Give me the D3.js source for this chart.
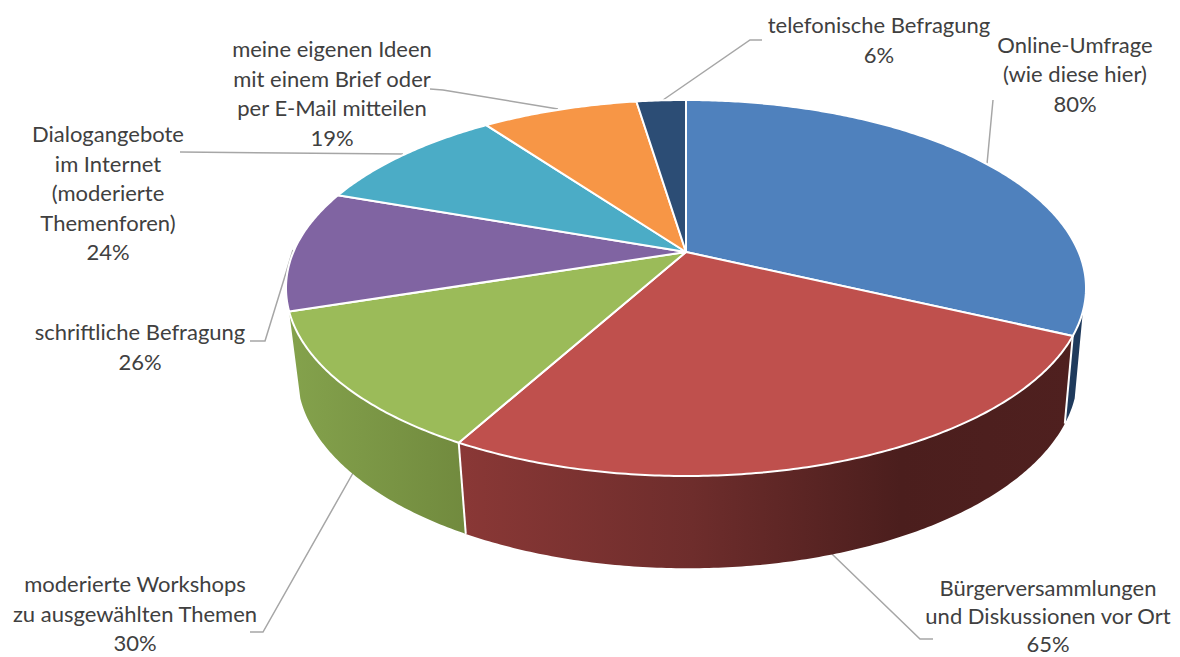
<!DOCTYPE html>
<html lang="de">
<head>
<meta charset="utf-8">
<title>Beteiligungsformen</title>
<script src="https://cdn.jsdelivr.net/npm/d3@7/dist/d3.min.js"></script>
<style>
  html, body { margin: 0; padding: 0; background: #fff; overflow: hidden; }
  svg { display: block; }
  text { font-family: Lato, "Open Sans", sans-serif; fill: #404040; }
</style>
</head>
<body>
<svg id="chart" width="1180" height="657"></svg>
<script>
// Survey answers, clockwise from twelve o'clock
const categories = [
  "Online-Umfrage",
  "Bürgerversammlungen",
  "moderierte Workshops",
  "schriftliche Befragung",
  "Dialogangebote",
  "meine eigenen Ideen",
  "telefonische Befragung"
];
const values = [80, 65, 30, 26, 24, 19, 6];
const labelLines = [
  ["Online-Umfrage", "(wie diese hier)"],
  ["Bürgerversammlungen", "und Diskussionen vor Ort"],
  ["moderierte Workshops", "zu ausgewählten Themen"],
  ["schriftliche Befragung"],
  ["Dialogangebote", "im Internet", "(moderierte", "Themenforen)"],
  ["meine eigenen Ideen", "mit einem Brief oder", "per E-Mail mitteilen"],
  ["telefonische Befragung"]
];

// Appearance
const topColors = ["#4f81bd", "#bf504d", "#9bbb59", "#8064a2", "#4bacc6", "#f79646", "#2c4d75"];
const wallStops = [
  [[0, "#1f3a5c"], [1, "#1f3a5c"]],
  [[0, "#8a3836"], [0.38, "#6e2d2c"], [0.72, "#4b1e1d"], [1, "#4f201f"]],
  [[0, "#84a24c"], [1, "#718a3e"]]
];

// Label placement: centre x, first baseline, leader polyline
const LINE_H = 29.5;
const labelLayout = [
  { x: 1075, y: 52.5, leader: [[987, 164], [993, 100]] },
  { x: 1048, y: 596, lineH: 28, leader: [[832, 554], [920, 639], [933, 639]] },
  { x: 135, y: 592, leader: [[353, 473], [263, 632], [250, 632]] },
  { x: 140, y: 340, leader: [[293, 250], [265, 341], [250, 341]] },
  { x: 108, y: 142, leader: [[403, 154], [180, 152]] },
  { x: 332, y: 57, leader: [[558, 109], [443, 90], [430, 89]] },
  { x: 879, y: 33, leader: [[663, 100], [750, 40], [762, 40]] }
];

// Tilted-disc projection: a unit circle seen in perspective
const CX = 686, K = 0.1915;
const topFace = { cx: CX, cy: 252, rx: 392.6, ry: 181.1 };
const baseFace = { cx: CX + 1.5, cy: 337, rx: 383.0, ry: 187 };
function project(face, a) {
  const u = Math.sin(a), v = Math.cos(a), w = 1 + K * v;
  return [face.cx + face.rx * u / w, face.cy - face.ry * v / w];
}
function arcPoints(face, a0, a1) {
  const n = Math.max(2, Math.ceil((a1 - a0) / 0.01));
  return d3.range(n + 1).map(i => project(face, a0 + (a1 - a0) * i / n));
}

const WALL_FROM = 108 * Math.PI / 180;
const WALL_TO = 252 * Math.PI / 180;

const svg = d3.select("#chart");
const defs = svg.append("defs");
const line = d3.line();
const slices = d3.pie().sort(null).value(d => d)(values);

// Leaders sit behind the disc
svg.append("g").selectAll("path")
  .data(labelLayout)
  .join("path")
  .attr("d", d => line(d.leader))
  .attr("fill", "none")
  .attr("stroke", "#a6a6a6")
  .attr("stroke-width", 1.5);

// Rim walls for the slices on the viewer's side
const walls = svg.append("g");
slices.forEach((s, i) => {
  const a0 = Math.max(s.startAngle, WALL_FROM);
  const a1 = Math.min(s.endAngle, WALL_TO);
  if (a1 - a0 < 1e-3) return;
  const top = arcPoints(topFace, a0, a1);
  const base = arcPoints(baseFace, a0, a1);
  const xs = top.concat(base).map(p => p[0]);
  const grad = defs.append("linearGradient")
    .attr("id", "wall" + i)
    .attr("gradientUnits", "userSpaceOnUse")
    .attr("x1", d3.min(xs)).attr("x2", d3.max(xs))
    .attr("y1", 0).attr("y2", 0);
  grad.selectAll("stop").data(wallStops[i]).join("stop")
    .attr("offset", d => d[0])
    .attr("stop-color", d => d[1]);
  walls.append("path")
    .attr("d", line(top.concat(base.reverse())) + "Z")
    .attr("fill", `url(#wall${i})`);
});

// White seams where two walls meet
slices.filter(s => s.endAngle > WALL_FROM && s.endAngle < WALL_TO - 1e-3).forEach(s => {
  walls.append("path")
    .attr("d", line([project(topFace, s.endAngle), project(baseFace, s.endAngle)]))
    .attr("stroke", "#fff")
    .attr("stroke-width", 2);
});

// Top face of the disc
svg.append("g").selectAll("path")
  .data(slices)
  .join("path")
  .attr("d", s => line([[CX, topFace.cy]].concat(arcPoints(topFace, s.startAngle, s.endAngle))) + "Z")
  .attr("fill", (s, i) => topColors[i])
  .attr("stroke", "#fff")
  .attr("stroke-width", 2)
  .attr("stroke-linejoin", "round");

// Category labels with their share of all mentions
const labels = svg.append("g").attr("font-size", 22).attr("text-anchor", "middle");
labelLayout.forEach((pos, i) => {
  const pct = values[i] + "%";
  labelLines[i].concat([pct]).forEach((txt, j) => {
    labels.append("text")
      .attr("x", pos.x)
      .attr("y", pos.y + j * (pos.lineH || LINE_H))
      .text(txt);
  });
});
</script>
</body>
</html>
